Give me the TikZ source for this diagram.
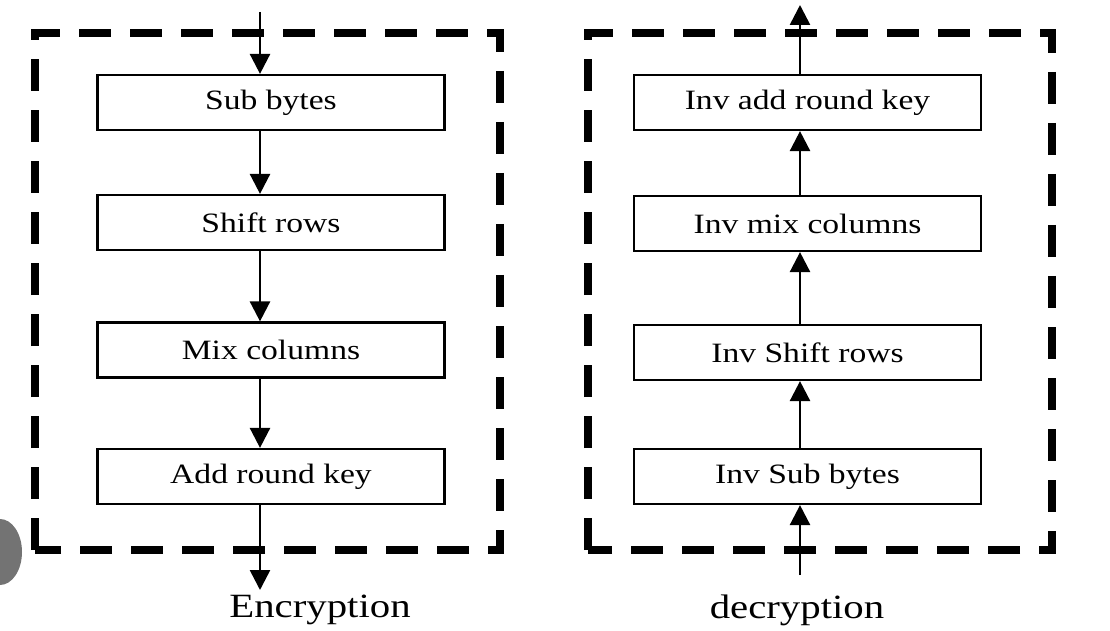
\documentclass[tikz,border=0pt]{standalone}
\usepackage{fontspec}
\setmainfont{Liberation Serif}
\newfontfamily\widefont[FakeStretch=1.2]{Liberation Serif}
\usetikzlibrary{arrows.meta,positioning}

\begin{document}
\begin{tikzpicture}[x=1pt, y=1pt,
    stagebox/.style={rectangle, minimum width=347pt, minimum height=55pt,
      draw=black, line width=2.2pt, fill=white, inner sep=0pt,
      font=\widefont\fontsize{28}{32}\selectfont},
    frame/.style={draw=black, line width=8pt, dash pattern=on 32pt off 19pt},
    arr/.style={-{Triangle[length=20pt, width=20pt]}, line width=2.6pt, draw=black},
    caption/.style={font=\widefont\fontsize{34}{38}\selectfont}
  ]
    \useasboundingbox (0,0) rectangle (1110,630);
    % Dashed frames
    \draw[frame] (35,80) rectangle (500,597);
    \draw[frame] (588,80) rectangle (1052,597);
    % Encryption stages
    \node[stagebox] (sub) at (271, 527.5) {Sub bytes};
    \node[stagebox] (shift) at (271, 407.5) {Shift rows};
    \node[stagebox] (mix) at (271, 280) {Mix columns};
    \node[stagebox] (add) at (271, 153.5) {Add round key};
    % Decryption stages
    \node[stagebox] (iadd) at (807.5, 527.5) {Inv add round key};
    \node[stagebox] (imix) at (807.5, 406.5) {Inv mix columns};
    \node[stagebox] (ishift) at (807.5, 277.5) {Inv Shift rows};
    \node[stagebox] (isub) at (807.5, 153.5) {Inv Sub bytes};
    % Arrow columns and free ends
    \coordinate (enc) at (260, 0);
    \coordinate (dec) at (800, 0);
    \coordinate (encin) at (260, 618);
    \coordinate (encout) at (260, 40);
    \coordinate (decin) at (800, 55);
    \coordinate (decout) at (800, 625);
    % Encryption arrows
    \draw[arr] (encin) -- (sub.north -| enc);
    \draw[arr] (sub.south -| enc) -- (shift.north -| enc);
    \draw[arr] (shift.south -| enc) -- (mix.north -| enc);
    \draw[arr] (mix.south -| enc) -- (add.north -| enc);
    \draw[arr] (add.south -| enc) -- (encout);
    % Decryption arrows
    \draw[arr] (decin) -- (isub.south -| dec);
    \draw[arr] (isub.north -| dec) -- (ishift.south -| dec);
    \draw[arr] (ishift.north -| dec) -- (imix.south -| dec);
    \draw[arr] (imix.north -| dec) -- (iadd.south -| dec);
    \draw[arr] (iadd.north -| dec) -- (decout);
    % Labels
    \node[caption] (enclabel) at (320, 20) {Encryption};
    \node[caption] (declabel) at (797, 20) {decryption};
    % Gray disc at the left edge
    \fill[black!55] (0, 78) ellipse (22 and 33);
  \end{tikzpicture}
\end{document}
